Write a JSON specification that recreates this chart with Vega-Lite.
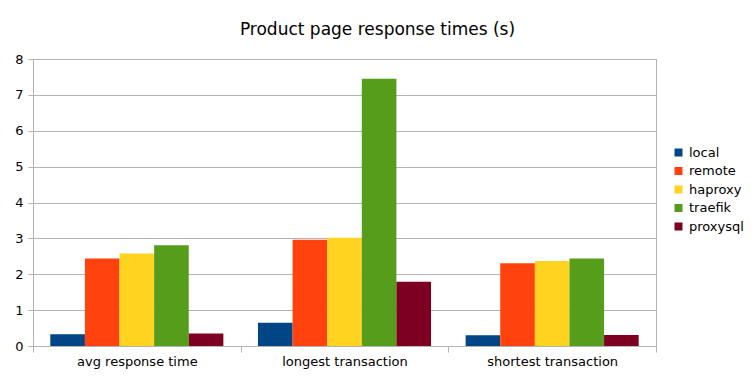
{
  "$schema": "https://vega.github.io/schema/vega-lite/v6.json",
  "width": 623,
  "height": 287,
  "autosize": {"type": "none"},
  "padding": {"left": 33, "top": 59, "right": 100, "bottom": 32},
  "background": "white",
  "title": {"text": "Product page response times (s)", "font": "DejaVu Sans", "fontSize": 17, "fontWeight": "normal", "color": "#000000", "anchor": "middle", "dx": 33, "offset": 14},
  "data": {"values": [
    {"category": "avg response time", "series": "local", "value": 0.33},
    {"category": "avg response time", "series": "remote", "value": 2.44},
    {"category": "avg response time", "series": "haproxy", "value": 2.58},
    {"category": "avg response time", "series": "traefik", "value": 2.81},
    {"category": "avg response time", "series": "proxysql", "value": 0.35},
    {"category": "longest transaction", "series": "local", "value": 0.65},
    {"category": "longest transaction", "series": "remote", "value": 2.96},
    {"category": "longest transaction", "series": "haproxy", "value": 3.02},
    {"category": "longest transaction", "series": "traefik", "value": 7.45},
    {"category": "longest transaction", "series": "proxysql", "value": 1.79},
    {"category": "shortest transaction", "series": "local", "value": 0.30},
    {"category": "shortest transaction", "series": "remote", "value": 2.31},
    {"category": "shortest transaction", "series": "haproxy", "value": 2.37},
    {"category": "shortest transaction", "series": "traefik", "value": 2.44},
    {"category": "shortest transaction", "series": "proxysql", "value": 0.31}
  ]},
  "mark": {"type": "bar"},
  "encoding": {
    "x": {"field": "category", "type": "nominal", "sort": null,
      "scale": {"paddingInner": 0, "paddingOuter": 0},
      "axis": {"title": null, "labelAngle": 0, "labelFont": "DejaVu Sans", "labelFontSize": 13, "labelColor": "#000000", "tickBand": "extent", "tickColor": "#b3b3b3", "tickSize": 6, "domainColor": "#b3b3b3", "labelPadding": 3, "grid": false}},
    "xOffset": {"field": "series", "type": "nominal", "sort": ["local", "remote", "haproxy", "traefik", "proxysql"],
      "scale": {"paddingInner": 0, "paddingOuter": 0.5}},
    "y": {"field": "value", "type": "quantitative",
      "scale": {"domain": [0, 8], "nice": false},
      "axis": {"title": null, "values": [0, 1, 2, 3, 4, 5, 6, 7, 8], "labelOverlap": false, "labelFont": "DejaVu Sans", "labelFontSize": 13, "labelColor": "#000000", "ticks": true, "tickSize": 5, "tickColor": "#b3b3b3", "labelPadding": 5, "domainColor": "#b3b3b3", "gridColor": "#b3b3b3", "gridOpacity": 1}},
    "color": {"field": "series", "type": "nominal", "sort": ["local", "remote", "haproxy", "traefik", "proxysql"],
      "scale": {"domain": ["local", "remote", "haproxy", "traefik", "proxysql"], "range": ["#004586", "#ff420e", "#ffd320", "#579d1c", "#7e0021"]},
      "legend": {"title": null, "orient": "none", "legendX": 639, "legendY": 87, "symbolType": "square", "symbolSize": 64, "labelFont": "DejaVu Sans", "labelFontSize": 13, "labelColor": "#000000", "rowPadding": 4.5, "symbolOpacity": 1, "labelOffset": 4}}
  },
  "config": {"view": {"stroke": "#b3b3b3"}}
}
